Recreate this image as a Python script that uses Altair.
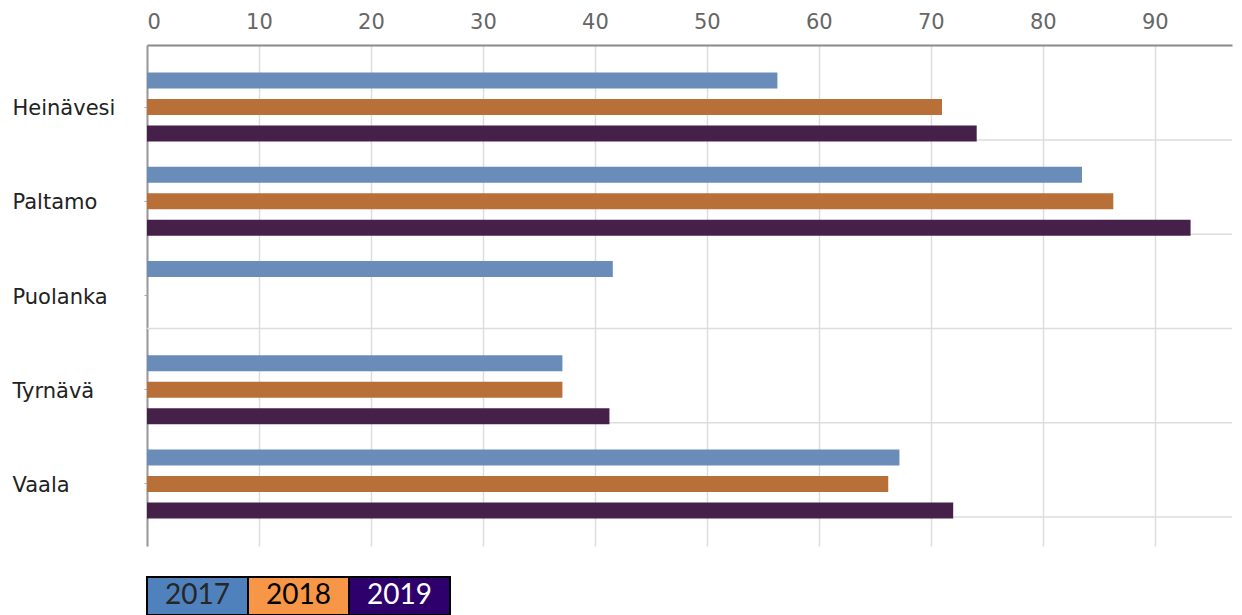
import altair as alt
import pandas as pd

municipalities = ["Heinävesi", "Paltamo", "Puolanka", "Tyrnävä", "Vaala"]
years = ["2017", "2018", "2019"]
v2017 = [56.3, 83.5, 41.6, 37.1, 67.2]
v2018 = [71.0, 86.3, None, 37.1, 66.2]
v2019 = [74.1, 93.2, None, 41.3, 72.0]
bar_colors = ["#6A8CB9", "#B97038", "#45214A"]
legend_fills = ["#4F81BD", "#F79646", "#2E006C"]
legend_text_colors = ["#262626", "#000000", "#FFFFFF"]
x_ticks = [0, 10, 20, 30, 40, 50, 60, 70, 80, 90]

rows = []
for i, m in enumerate(municipalities):
    for yr, vals in zip(years, [v2017, v2018, v2019]):
        if vals[i] is not None:
            rows.append({"kunta": m, "vuosi": yr, "arvo": vals[i]})
df = pd.DataFrame(rows)
grid_df = pd.DataFrame({"kunta": municipalities})
legend_df = pd.DataFrame({"vuosi": years, "fill": legend_fills, "tc": legend_text_colors})

W = 1085
H = 501
x_scale = alt.Scale(domain=[0, 96.9], nice=False, zero=True)
y_scale = alt.Scale(domain=municipalities, paddingInner=0.25, paddingOuter=0.283)

y_axis = alt.Axis(title=None, labelAlign="left", labelPadding=132, tickSize=3,
                  tickColor="#aaaaaa", domainColor="#999999", domainWidth=2,
                  labelFontSize=21, labelColor="#222222", labelFont="DejaVu Sans",
                  labelOffset=2, grid=False)
x_axis = alt.Axis(orient="top", values=x_ticks, title=None, grid=True,
                  gridColor="#dddddd", gridWidth=1.5, domainColor="#8a8a8a",
                  domainWidth=2, ticks=False, labelFontSize=21, labelColor="#666666",
                  labelFont="DejaVu Sans", labelPadding=13)

hgrid = alt.Chart(grid_df).mark_rule(yOffset=33, color="#dddddd", strokeWidth=1.5).encode(
    y=alt.Y("kunta:N", scale=y_scale, axis=y_axis)
)

bars = alt.Chart(df).mark_bar().encode(
    x=alt.X("arvo:Q", scale=x_scale, axis=x_axis),
    y=alt.Y("kunta:N", scale=y_scale, axis=y_axis),
    yOffset=alt.YOffset("vuosi:N", scale=alt.Scale(domain=years, paddingInner=0.396, paddingOuter=0.032)),
    color=alt.Color("vuosi:N", scale=alt.Scale(domain=years, range=bar_colors), legend=None),
)

main = alt.layer(hgrid, bars).properties(width=W, height=H)

lx = alt.X("vuosi:N", scale=alt.Scale(domain=years, paddingInner=0, paddingOuter=0), axis=None)
leg_rect = alt.Chart(legend_df).mark_rect(stroke="black", strokeWidth=2).encode(
    x=lx, fill=alt.Fill("fill:N", scale=None)
)
leg_text = alt.Chart(legend_df).mark_text(fontSize=28, font="Lato").encode(
    x=lx, text="vuosi:N", color=alt.Color("tc:N", scale=None)
)
legend = alt.layer(leg_rect, leg_text).properties(width=303, height=38)

chart = alt.vconcat(main, legend, spacing=30).properties(
    padding={"left": 4, "top": 3, "right": 0, "bottom": 0}
).configure_view(stroke=None).configure_concat(spacing=30)

chart.save("out.html", embed_options={"renderer": "svg", "actions": False})
